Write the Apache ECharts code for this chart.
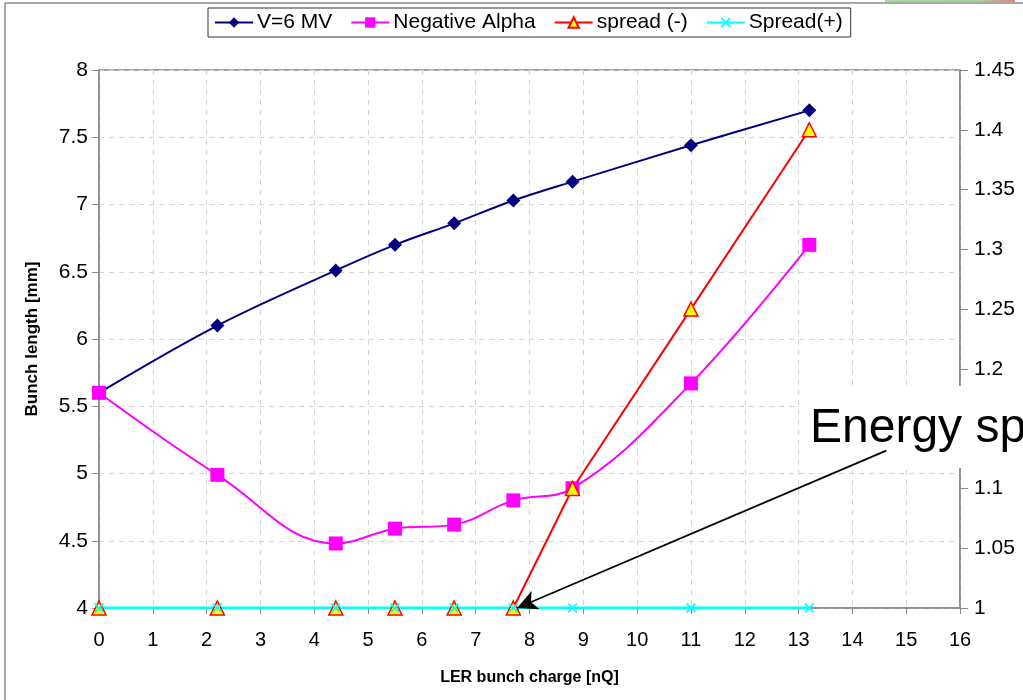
<!DOCTYPE html>
<html>
<head>
<meta charset="utf-8">
<title>Bunch length vs LER bunch charge</title>
<script src="https://cdn.jsdelivr.net/npm/echarts@6/dist/echarts.min.js"></script>
<style>
  html, body { margin: 0; padding: 0; background: #ffffff; }
  #chart { width: 1023px; height: 700px; }
</style>
</head>
<body>
<div id="chart"></div>
<script>
// LER bunch charge [nQ]
const charge = [0, 2.2, 4.4, 5.5, 6.6, 7.7, 8.8, 11, 13.2];
// Bunch length [mm], left axis
const lengthV6MV = [5.6, 6.10, 6.51, 6.70, 6.86, 7.03, 7.17, 7.44, 7.70];
const lengthNegAlpha = [5.6, 4.99, 4.48, 4.59, 4.62, 4.80, 4.89, 5.67, 6.70];
// Relative energy spread, right axis
const spreadMinus = [1, 1, 1, 1, 1, 1, 1.10, 1.25, 1.40];
const spreadPlus = [1, 1, 1, 1, 1, 1, 1, 1, 1];
// Arrow of the "Energy spread" note, in data units (charge, bunch length)
const noteArrowFrom = [14.63, 5.17];
const noteArrowTo = [7.77, 4.0];

const FONT = 'Liberation Sans, Arial, sans-serif';
const pairs = (ys) => charge.map((x, i) => [x, ys[i]]);
const crossPath = 'path://M0,1.2L1.2,0L5,3.8L8.8,0L10,1.2L6.2,5L10,8.8L8.8,10L5,6.2L1.2,10L0,8.8L3.8,5Z';

const chart = echarts.init(document.getElementById('chart'), null, { renderer: 'canvas' });

chart.setOption({
  backgroundColor: '#ffffff',
  animation: false,
  textStyle: { fontFamily: FONT },
  legend: {
    left: 208,
    top: 8,
    padding: [4, 8, 4, 6],
    borderColor: '#333333',
    borderWidth: 1,
    itemGap: 18,
    itemWidth: 38,
    itemHeight: 13,
    textStyle: { fontSize: 21, color: '#000000', fontFamily: FONT, padding: [0, 0, 0, -1] },
    data: ['V=6 MV', 'Negative Alpha', 'spread (-)', 'Spread(+)']
  },
  grid: { left: 99, right: 63, top: 70, bottom: 92, show: true, borderColor: '#888888', borderWidth: 1.5 },
  xAxis: {
    type: 'value',
    min: 0, max: 16, interval: 1,
    name: 'LER bunch charge [nQ]',
    nameLocation: 'middle',
    nameGap: 62,
    nameTextStyle: { fontSize: 16, fontWeight: 'bold', color: '#000000', fontFamily: FONT },
    axisLine: { lineStyle: { color: '#888888', width: 1.5 } },
    axisTick: { show: true, length: 6, lineStyle: { color: '#888888' } },
    axisLabel: { fontSize: 20, color: '#000000', margin: 22, fontFamily: FONT },
    splitLine: { show: true, lineStyle: { color: '#d4d4d4', type: [5, 5], width: 1 } }
  },
  yAxis: [
    {
      type: 'value',
      min: 4, max: 8, interval: 0.5,
      name: 'Bunch length [mm]',
      nameLocation: 'middle',
      nameGap: 58,
      nameTextStyle: { fontSize: 17, fontWeight: 'bold', color: '#000000', fontFamily: FONT },
      axisLine: { show: true, lineStyle: { color: '#888888', width: 1.5 } },
      axisTick: { show: true, length: 7, lineStyle: { color: '#888888' } },
      axisLabel: { fontSize: 21, color: '#000000', margin: 11, fontFamily: FONT },
      splitLine: { show: true, lineStyle: { color: '#d4d4d4', type: [5, 5], width: 1 } }
    },
    {
      type: 'value',
      min: 1, max: 1.45, interval: 0.05,
      position: 'right',
      axisLine: { show: true, lineStyle: { color: '#888888', width: 1.5 } },
      axisTick: { show: true, inside: false, length: 8, lineStyle: { color: '#888888' } },
      axisLabel: { fontSize: 21, color: '#000000', margin: 14, fontFamily: FONT },
      splitLine: { show: false }
    }
  ],
  series: [
    {
      name: 'V=6 MV',
      type: 'line',
      yAxisIndex: 0,
      data: pairs(lengthV6MV),
      smooth: 0.35,
      symbol: 'diamond',
      symbolSize: 14,
      lineStyle: { color: '#000080', width: 2 },
      itemStyle: { color: '#000080' },
      markLine: {
        silent: true,
        symbol: ['none', 'arrow'],
        symbolSize: [15, 20],
        label: { show: false },
        lineStyle: { color: '#000000', width: 1.8, type: 'solid' },
        emphasis: { disabled: true },
        data: [[{ coord: noteArrowFrom }, { coord: noteArrowTo }]]
      }
    },
    {
      name: 'Negative Alpha',
      type: 'line',
      yAxisIndex: 0,
      data: pairs(lengthNegAlpha),
      smooth: 0.4,
      symbol: 'rect',
      symbolSize: 14,
      lineStyle: { color: '#ff00ff', width: 2 },
      itemStyle: { color: '#ff00ff' }
    },
    {
      name: 'spread (-)',
      type: 'line',
      yAxisIndex: 1,
      data: pairs(spreadMinus),
      symbol: 'triangle',
      symbolSize: 14,
      lineStyle: { color: '#ff0000', width: 2 },
      itemStyle: { color: '#ffff00', borderColor: '#ff0000', borderWidth: 1.5 }
    },
    {
      name: 'Spread(+)',
      type: 'line',
      yAxisIndex: 1,
      data: pairs(spreadPlus),
      symbol: crossPath,
      symbolSize: 10,
      lineStyle: { color: '#00ffff', width: 3 },
      itemStyle: { color: '#00ffff' }
    }
  ],
  graphic: [
    // outer frame of the slide figure
    { type: 'line', shape: { x1: 5, y1: 3, x2: 1023, y2: 3 }, style: { stroke: '#8a8a8a', lineWidth: 1.5 }, z: 1 },
    { type: 'line', shape: { x1: 5, y1: 3, x2: 5, y2: 700 }, style: { stroke: '#8a8a8a', lineWidth: 1.5 }, z: 1 },
    {
      type: 'rect',
      shape: { x: 885, y: 0, width: 130, height: 2 },
      style: {
        fill: new echarts.graphic.LinearGradient(0, 0, 1, 0, [
          { offset: 0, color: '#a8d8a0' },
          { offset: 0.7, color: '#9fd39a' },
          { offset: 1, color: '#f08080' }
        ])
      },
      z: 1
    },
    // "Energy spread" note on a white box: above the axes, below the series and arrow
    {
      type: 'rect',
      shape: { x: 800, y: 386, width: 240, height: 82 },
      style: { fill: '#ffffff' },
      z: 1
    },
    {
      type: 'text',
      x: 810,
      y: 405,
      style: { text: 'Energy spread', font: '48px ' + FONT, fill: '#000000' },
      z: 1
    }
  ]
});
</script>
</body>
</html>
